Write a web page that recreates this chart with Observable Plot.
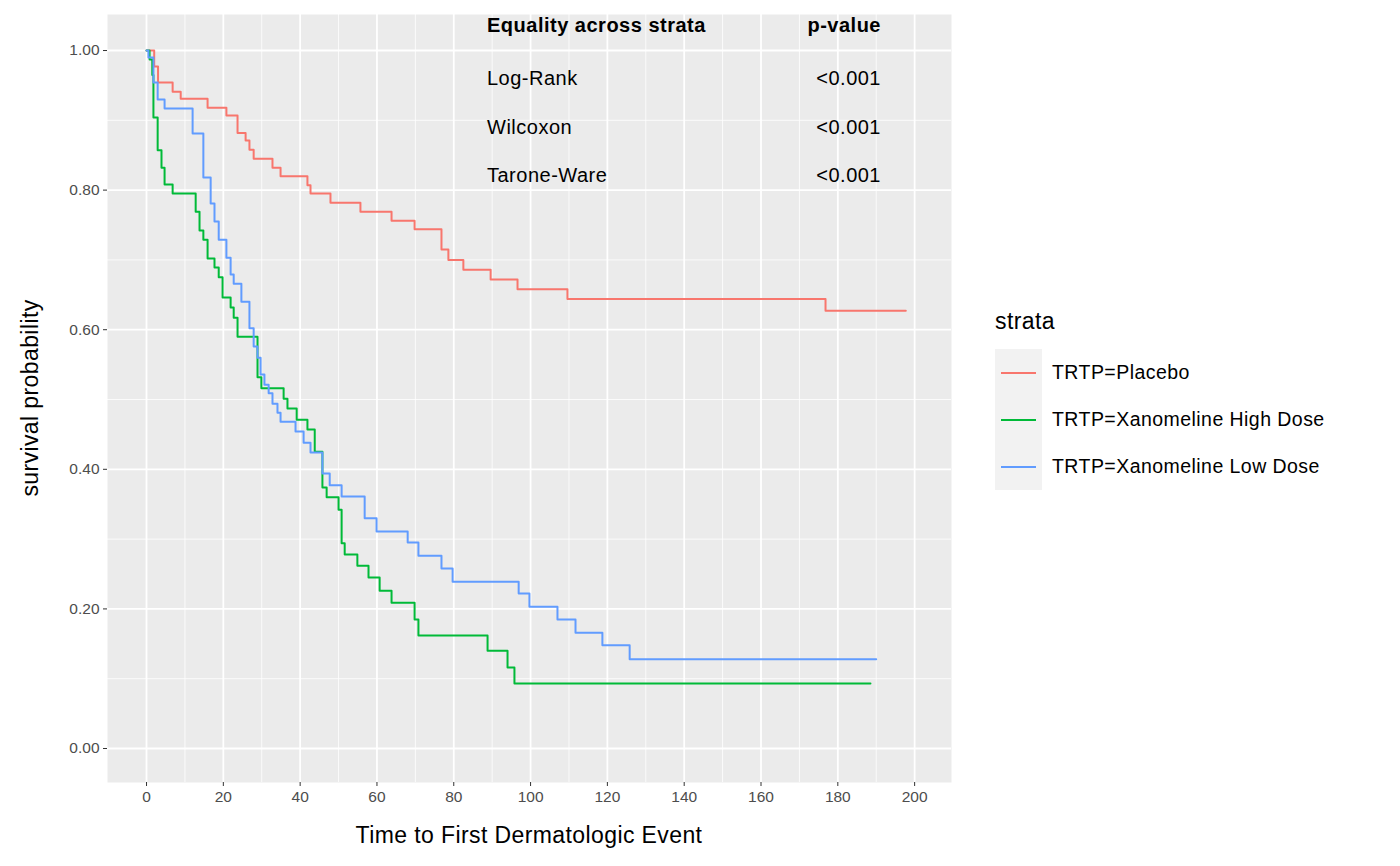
<!DOCTYPE html>
<html>
<head>
<meta charset="utf-8">
<script src="https://cdn.jsdelivr.net/npm/d3@7"></script>
<script src="https://cdn.jsdelivr.net/npm/@observablehq/plot@0.6"></script>
<style>
  body { margin: 0; background: #fff; font-family: "Liberation Sans", Arial, sans-serif; }
  #wrap { position: relative; width: 1400px; height: 866px; }
  #legend { position: absolute; left: 995px; top: 308px; color: #000; }
  #legend .title { font-size: 23px; margin-bottom: 14px; letter-spacing: 0.4px; }
  #legend .keys { background: #F2F2F2; width: 47px; padding: 0; }
  #legend .row { position: relative; height: 47px; }
  #legend .row span { position: absolute; left: 57px; top: 12px; font-size: 19.5px; letter-spacing: 0.45px; white-space: nowrap; }
  #legend .row i { position: absolute; left: 6px; top: 23px; width: 35px; height: 2px; }
  #stats { position: absolute; left: 487px; top: 14px; font-size: 20px; letter-spacing: 0.5px; color: #000; }
  #stats .r { position: relative; height: 48.5px; width: 394px; }
  #stats .r.h { height: 53px; }
  #stats .r span:last-child { position: absolute; right: 0; }
</style>
</head>
<body>
<div id="wrap">
  <div id="chart"></div>
  <div id="stats"></div>
  <div id="legend"></div>
</div>
<script>
const strata = ["TRTP=Placebo", "TRTP=Xanomeline High Dose", "TRTP=Xanomeline Low Dose"]
const colors = ["#F8766D", "#00BA38", "#619CFF"]

const placeboTime = [0, 2, 3, 6.8, 8.9, 15.9, 20.8, 23.7, 25.8, 26.8, 27.9, 32.8, 34.9, 41.9, 42.7, 47.9, 55.7, 63.8, 69.8, 76.8, 78.6, 82.5, 89.6, 96.6, 109.6, 176.8, 197.7]
const placeboSurv = [1, 0.977, 0.954, 0.941, 0.931, 0.918, 0.907, 0.882, 0.871, 0.858, 0.845, 0.832, 0.820, 0.807, 0.795, 0.782, 0.769, 0.756, 0.744, 0.715, 0.700, 0.686, 0.672, 0.658, 0.644, 0.627, 0.627]

const highTime = [0, 0.8, 1.5, 1.8, 2.9, 3.9, 4.7, 6.8, 12.8, 13.8, 14.8, 15.9, 17.7, 18.8, 19.8, 21.9, 22.7, 23.7, 28.9, 29.9, 35.7, 36.7, 39.1, 41.9, 43.8, 45.8, 46.9, 50.0, 50.8, 51.6, 54.9, 57.8, 60.7, 63.8, 69.8, 70.8, 88.8, 94.0, 95.8, 188.5]
const highSurv = [1, 0.987, 0.965, 0.904, 0.857, 0.832, 0.808, 0.795, 0.769, 0.742, 0.729, 0.702, 0.689, 0.675, 0.646, 0.632, 0.617, 0.590, 0.532, 0.516, 0.501, 0.487, 0.471, 0.457, 0.425, 0.374, 0.360, 0.342, 0.294, 0.278, 0.262, 0.245, 0.226, 0.209, 0.185, 0.162, 0.140, 0.116, 0.093, 0.093]

const lowTime = [0, 0.5, 1.8, 2.9, 4.7, 12.0, 14.8, 16.7, 17.7, 18.8, 20.8, 21.9, 22.7, 24.7, 26.8, 27.9, 28.9, 29.7, 30.7, 31.8, 32.8, 34.1, 34.9, 38.8, 40.9, 42.7, 45.8, 47.7, 50.8, 56.8, 59.9, 68.0, 70.8, 76.8, 79.7, 96.9, 99.7, 107.0, 111.7, 118.7, 125.8, 190]
const lowSurv = [1, 0.990, 0.954, 0.930, 0.917, 0.881, 0.818, 0.781, 0.755, 0.729, 0.703, 0.679, 0.666, 0.640, 0.602, 0.576, 0.560, 0.536, 0.521, 0.509, 0.494, 0.481, 0.468, 0.454, 0.438, 0.424, 0.394, 0.377, 0.361, 0.330, 0.311, 0.295, 0.276, 0.258, 0.239, 0.222, 0.203, 0.185, 0.166, 0.148, 0.128, 0.128]

const testNames = ["Log-Rank", "Wilcoxon", "Tarone-Ware"]
const pValues = ["<0.001", "<0.001", "<0.001"]

const xTicks = d3.range(0, 201, 20)
const xMinor = d3.range(10, 201, 20)
const yTicks = [0, 0.2, 0.4, 0.6, 0.8, 1.0]
const yMinor = [0.1, 0.3, 0.5, 0.7, 0.9]

const curves = [[placeboTime, placeboSurv], [highTime, highSurv], [lowTime, lowSurv]]
const rows = curves.flatMap(([t, s], i) => t.map((time, j) => ({time, surv: s[j], strata: strata[i]})))

const chart = Plot.plot({
  width: 1400,
  height: 866,
  marginLeft: 107,
  marginRight: 449,
  marginTop: 14,
  marginBottom: 84,
  style: {fontFamily: "Liberation Sans, Arial, sans-serif", fontSize: "15.5px", background: "#fff"},
  x: {domain: [-10.16, 209.6], label: null},
  y: {domain: [-0.0487, 1.0516], label: null},
  color: {domain: strata, range: colors},
  marks: [
    Plot.frame({fill: "#EBEBEB", stroke: null}),
    Plot.gridX(xMinor, {stroke: "#fff", strokeOpacity: 1, strokeWidth: 0.8}),
    Plot.gridY(yMinor, {stroke: "#fff", strokeOpacity: 1, strokeWidth: 0.8}),
    Plot.gridX(xTicks, {stroke: "#fff", strokeOpacity: 1, strokeWidth: 1.8}),
    Plot.gridY(yTicks, {stroke: "#fff", strokeOpacity: 1, strokeWidth: 1.8}),
    Plot.axisX(xTicks, {tickSize: 4, tickPadding: 4, stroke: "#333", fill: "#4D4D4D", label: null}),
    Plot.axisY(yTicks, {tickSize: 4, tickPadding: 4, stroke: "#333", fill: "#4D4D4D", tickFormat: d3.format(".2f"), label: null}),
    Plot.line(rows, {x: "time", y: "surv", z: "strata", stroke: "strata", curve: "step-after", strokeWidth: 2})
  ]
})
d3.select('#chart').append(() => chart)

const svg = d3.select(chart)
svg.append("text").attr("x", 529).attr("y", 843).attr("text-anchor", "middle")
  .attr("font-size", 23).attr("letter-spacing", 0.4).attr("fill", "#000").text("Time to First Dermatologic Event")
svg.append("text").attr("transform", "translate(38,398) rotate(-90)").attr("text-anchor", "middle")
  .attr("font-size", 23).attr("letter-spacing", 0.4).attr("fill", "#000").text("survival probability")

const stats = d3.select('#stats')
const head = stats.append("div").attr("class", "r h").style("font-weight", "bold")
head.append("span").text("Equality across strata")
head.append("span").text("p-value")
testNames.forEach((n, i) => {
  const r = stats.append("div").attr("class", "r")
  r.append("span").text(n)
  r.append("span").text(pValues[i])
})

const legend = d3.select('#legend')
legend.append("div").attr("class", "title").text("strata")
const keys = legend.append("div").attr("class", "keys")
strata.forEach((s, i) => {
  const r = keys.append("div").attr("class", "row")
  r.append("i").style("background", colors[i])
  r.append("span").text(s)
})
</script>
</body>
</html>
